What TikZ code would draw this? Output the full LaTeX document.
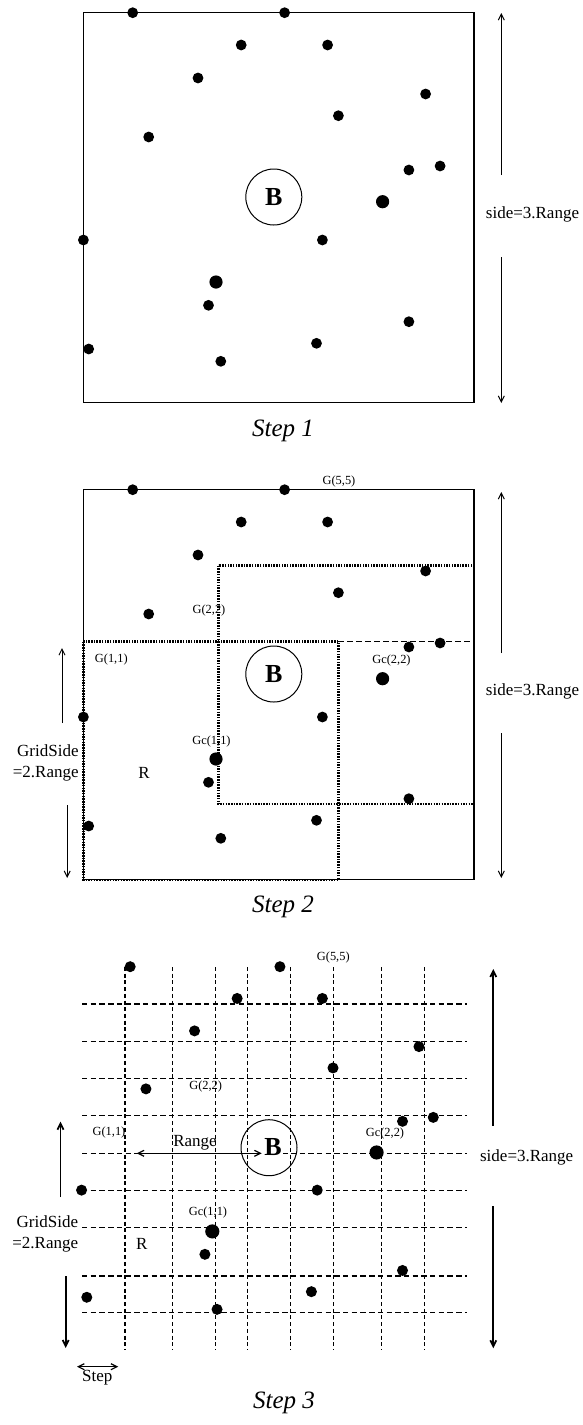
\documentclass[tikz,border=0pt]{standalone}
\usepackage{fontspec}
\setmainfont{Liberation Serif}
\usetikzlibrary{arrows.meta}
% sensor positions, measured on the Step 1 frame
\newcommand{\sensorlist}{132.7/12.7, 284.6/12.7, 241.2/45, 327.6/45, 198/78, 425.6/94, 338.4/115.7, 148.7/137, 408.9/170, 440.1/166, 83.4/240, 322.4/240, 208.5/305.3, 408.9/321.7, 88.7/349, 316.5/343.3, 220.8/361.3}
\newcommand{\bigsensorlist}{382.6/201.7, 216/282}

\begin{document}
\begin{tikzpicture}[
  x=0.5pt,y=-0.5pt,
  frame/.style={line width=0.75pt},
  dotline/.style={line width=1.4pt,dash pattern=on 0.75pt off 0.6pt},
  cutline/.style={line width=0.7pt,dash pattern=on 3pt off 1.5pt},
  hgrid/.style={line width=0.7pt,dash pattern=on 2.7pt off 1.65pt},
  vgrid/.style={line width=0.6pt,dash pattern=on 2pt off 1.35pt},
  dim/.style={line width=0.5pt,-{Straight Barb[length=3pt,width=3pt]}},
  boldim/.style={dim,line width=0.9pt},
  twodim/.style={line width=0.6pt,{Straight Barb[length=3pt,width=3pt]}-{Straight Barb[length=3pt,width=3pt]}},
  lbl/.style={font=\fontsize{6.2}{7}\selectfont,inner sep=0.5pt},
  txt/.style={font=\fontsize{8.5}{10.5}\selectfont,inner sep=0.5pt},
  stepcap/.style={font=\fontsize{12.5}{14}\selectfont\itshape},
  bs/.style={circle,draw,line width=0.5pt,minimum size=28pt,inner sep=0pt,
    font=\fontsize{13}{14}\selectfont\bfseries}
]
  \useasboundingbox (0,0) rectangle (583,1425);

  % Step 1
  \draw[frame] (83.5,12.5) rectangle (474,402.5);
  \foreach \x/\y in \sensorlist \fill (\x,\y) circle[radius=2.7pt];
  \foreach \x/\y in \bigsensorlist \fill (\x,\y) circle[radius=3.3pt];
  \node[bs] (b1) at (273.8,197) {B};
  \node[txt] (side1) at (532.5,214) {side=3.Range};
  \coordinate (s1a) at (501.3,175);
  \coordinate (s1top) at (501.3,13);
  \coordinate (s1b) at (501.3,257);
  \coordinate (s1bot) at (501.3,403);
  \draw[dim] (s1a) -- (s1top);
  \draw[dim] (s1b) -- (s1bot);
  \node[stepcap] (cap1) at (283,431) {Step 1};

  % Step 2
  \begin{scope}[shift={(0,477)}]
    \draw[frame] (83.5,12.5) rectangle (474,402.5);
    \foreach \x/\y in \sensorlist \fill (\x,\y) circle[radius=2.7pt];
    \foreach \x/\y in \bigsensorlist \fill (\x,\y) circle[radius=3.3pt];
    \node[bs] (b2) at (273.8,197) {B};
  \end{scope}
  \draw[dotline] (218.2,565.7) rectangle (474,804);
  \draw[dotline] (83.5,641.7) rectangle (338.4,880);
  \draw[cutline] (338.4,641.7) -- (474,641.7);
  \node[lbl] (g55b) at (339,482) {G(5,5)};
  \node[lbl] (g22b) at (209,611) {G(2,2)};
  \node[lbl] (g11b) at (111.3,660) {G(1,1)};
  \node[lbl] (gc22b) at (391.5,661) {Gc(2,2)};
  \node[lbl] (gc11b) at (211.5,742) {Gc(1,1)};
  \node[txt] (r2) at (144,773) {R};
  \node[txt,align=right,anchor=east] (gs2) at (80,762.5) {GridSide\\=2.Range};
  \coordinate (g2a) at (62,723);
  \coordinate (g2top) at (62,648);
  \coordinate (g2b) at (67.2,805);
  \coordinate (g2bot) at (67.2,878);
  \draw[dim] (g2a) -- (g2top);
  \draw[dim] (g2b) -- (g2bot);
  \node[txt] (side2) at (532.5,691) {side=3.Range};
  \coordinate (s2a) at (501.3,653);
  \coordinate (s2top) at (501.3,492);
  \coordinate (s2b) at (501.3,733);
  \coordinate (s2bot) at (501.3,878);
  \draw[dim] (s2a) -- (s2top);
  \draw[dim] (s2b) -- (s2bot);
  \node[stepcap] (cap2) at (283,907) {Step 2};

  % Step 3
  \foreach \gx in {125,172.7,215.7,247.7,290.7,333.3,381.7,424.3}
    \draw[vgrid] (\gx,967) -- (\gx,1350);
  \foreach \gy in {1004,1041.7,1078.7,1115.7,1153.3,1190.7,1227.3,1276,1312.7}
    \draw[hgrid] (82,\gy) -- (466.7,\gy);
  \begin{scope}[shift={(-0.66,954.2)},xscale=0.986,yscale=0.983]
    \foreach \x/\y in \sensorlist \fill (\x,\y) circle[radius=2.8pt];
    \foreach \x/\y in \bigsensorlist \fill (\x,\y) circle[radius=3.6pt];
  \end{scope}
  \coordinate (rga) at (136.7,1153.3);
  \coordinate (rgb) at (261.7,1153.3);
  \draw[twodim] (rga) -- (rgb);
  \node[txt] (rg) at (195,1142.7) {Range};
  \node[bs] (b3) at (269,1147.7) {};
  \node[font=\fontsize{13}{14}\selectfont\bfseries,fill=white,inner sep=0.8pt] (bl3) at (273,1147) {B};
  \node[lbl] (g55c) at (333.3,958) {G(5,5)};
  \node[lbl] (g22c) at (205.7,1086.7) {G(2,2)};
  \node[lbl] (g11c) at (109,1133) {G(1,1)};
  \node[lbl] (gc22c) at (385,1134) {Gc(2,2)};
  \node[lbl] (gc11c) at (208,1212.7) {Gc(1,1)};
  \node[txt] (r3) at (141.7,1244) {R};
  \node[txt,align=right,anchor=east] (gs3) at (79.5,1233.5) {GridSide\\=2.Range};
  \coordinate (g3a) at (60.5,1197);
  \coordinate (g3top) at (60.5,1121.7);
  \coordinate (g3b) at (65.7,1276);
  \coordinate (g3bot) at (65.7,1348);
  \draw[boldim] (g3a) -- (g3top);
  \draw[boldim] (g3b) -- (g3bot);
  \node[txt] (side3) at (526.7,1157.3) {side=3.Range};
  \coordinate (s3a) at (493.3,1125.7);
  \coordinate (s3top) at (493.3,969);
  \coordinate (s3b) at (493.3,1206);
  \coordinate (s3bot) at (493.3,1348.3);
  \draw[boldim] (s3a) -- (s3top);
  \draw[boldim] (s3b) -- (s3bot);
  \coordinate (sta) at (77,1366.7);
  \coordinate (stb) at (118.3,1366.7);
  \draw[twodim] (sta) -- (stb);
  \node[txt] (st) at (97.3,1377.5) {Step};
  \node[stepcap] (cap3) at (284,1403) {Step 3};
\end{tikzpicture}
\end{document}
